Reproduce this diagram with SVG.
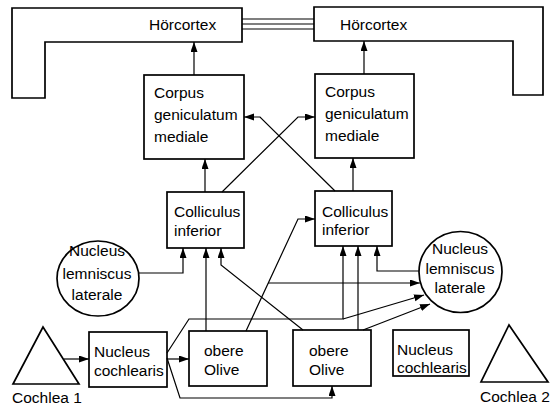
<svg xmlns="http://www.w3.org/2000/svg" width="550" height="407" viewBox="0 0 550 407">
<style>
.box{fill:#fff;stroke:#000;stroke-width:1.7}
.ln{fill:none;stroke:#000;stroke-width:1.2}
.t{font-family:"Liberation Sans",Arial,sans-serif;font-size:15.5px;fill:#000}
.c{text-anchor:middle}
</style>
<defs>
<marker id="ah" markerUnits="userSpaceOnUse" markerWidth="11" markerHeight="8" refX="10" refY="3.5" orient="auto">
<path d="M0,0 L10,3.5 L0,7 Z" fill="#000"/>
</marker>
</defs>
<g id="cortex-left">
<path class="box" d="M12,8 H242 V42 H45 V98 H12 Z"/>
<text class="t" x="149" y="30">Hörcortex</text>
</g>
<g id="cortex-right">
<path class="box" d="M314,7 H543 V95 H513 V41 H314 Z"/>
<text class="t" x="340" y="30">Hörcortex</text>
</g>
<g id="cgm-left">
<rect class="box" x="144" y="75" width="100" height="84"/>
<text class="t" x="154" y="98">Corpus</text>
<text class="t" x="154" y="120">geniculatum</text>
<text class="t" x="154" y="142">mediale</text>
</g>
<g id="cgm-right">
<rect class="box" x="315" y="74" width="99" height="84"/>
<text class="t" x="325" y="97">Corpus</text>
<text class="t" x="325" y="119">geniculatum</text>
<text class="t" x="325" y="141">mediale</text>
</g>
<g id="ci-left">
<rect class="box" x="167" y="192" width="77" height="56"/>
<text class="t" x="174" y="217">Colliculus</text>
<text class="t" x="174" y="236">inferior</text>
</g>
<g id="ci-right">
<rect class="box" x="315" y="191" width="77" height="55"/>
<text class="t" x="322" y="217">Colliculus</text>
<text class="t" x="322" y="235">inferior</text>
</g>
<g id="nll-left">
<ellipse class="box" cx="98" cy="278.5" rx="41" ry="37.5"/>
<text class="t c" x="97" y="256">Nucleus</text>
<text class="t c" x="97" y="279">lemniscus</text>
<text class="t c" x="97" y="300">laterale</text>
</g>
<g id="nll-right">
<ellipse class="box" cx="460.5" cy="272" rx="41.5" ry="40.5"/>
<text class="t c" x="460" y="254">Nucleus</text>
<text class="t c" x="460" y="274">lemniscus</text>
<text class="t c" x="460" y="293">laterale</text>
</g>
<g id="oo-left">
<rect class="box" x="189" y="331" width="78" height="55"/>
<text class="t" x="204" y="356">obere</text>
<text class="t" x="204" y="375">Olive</text>
</g>
<g id="oo-right">
<rect class="box" x="293" y="330" width="78" height="56"/>
<text class="t" x="309" y="356">obere</text>
<text class="t" x="309" y="375">Olive</text>
</g>
<g id="nc-left">
<rect class="box" x="89" y="332" width="78" height="55"/>
<text class="t" x="94" y="357">Nucleus</text>
<text class="t" x="94" y="376">cochlearis</text>
</g>
<g id="nc-right">
<rect class="box" x="393" y="330" width="76" height="46"/>
<text class="t" x="397" y="355">Nucleus</text>
<text class="t" x="397" y="373">cochlearis</text>
</g>
<g id="cochlea-1">
<path class="box" d="M43,327 L79,384 L13,384 Z"/>
<text class="t" x="12" y="403">Cochlea 1</text>
</g>
<g id="cochlea-2">
<path class="box" d="M509,325 L548,382 L481,382 Z"/>
<text class="t" x="480" y="402">Cochlea 2</text>
</g>
<g id="connectors">
<path class="ln" d="M242,19 H314 M242,24 H314 M242,29 H314" stroke-width="1.5"/>
<path class="ln" d="M194,75 V42" marker-end="url(#ah)"/>
<path class="ln" d="M364,74 V41" marker-end="url(#ah)"/>
<path class="ln" d="M205,192 V159" marker-end="url(#ah)"/>
<path class="ln" d="M353,191 V158" marker-end="url(#ah)"/>
<path class="ln" d="M222,192 L298,117 H315" marker-end="url(#ah)"/>
<path class="ln" d="M335,191 L260,117 H244" marker-end="url(#ah)"/>
<path class="ln" d="M139,273 H183 V248" marker-end="url(#ah)"/>
<path class="ln" d="M206,331 V248" marker-end="url(#ah)"/>
<path class="ln" d="M303,330 L221,265 V248" marker-end="url(#ah)"/>
<path class="ln" d="M246,331 L298,219 H315" marker-end="url(#ah)"/>
<path class="ln" d="M268,283 H420" marker-end="url(#ah)"/>
<path class="ln" d="M167,353 L189,319 H343 V246" marker-end="url(#ah)"/>
<path class="ln" d="M343,319 L424,295" marker-end="url(#ah)"/>
<path class="ln" d="M363,330 L430,304" marker-end="url(#ah)"/>
<path class="ln" d="M358,330 V246" marker-end="url(#ah)"/>
<path class="ln" d="M419,271 H377 V246" marker-end="url(#ah)"/>
<path class="ln" d="M167,358 L180,398 H332 V386" marker-end="url(#ah)"/>
<path class="ln" d="M167,359 H189" marker-end="url(#ah)"/>
<path class="ln" d="M64,359 H89" marker-end="url(#ah)"/>
</g>
</svg>
